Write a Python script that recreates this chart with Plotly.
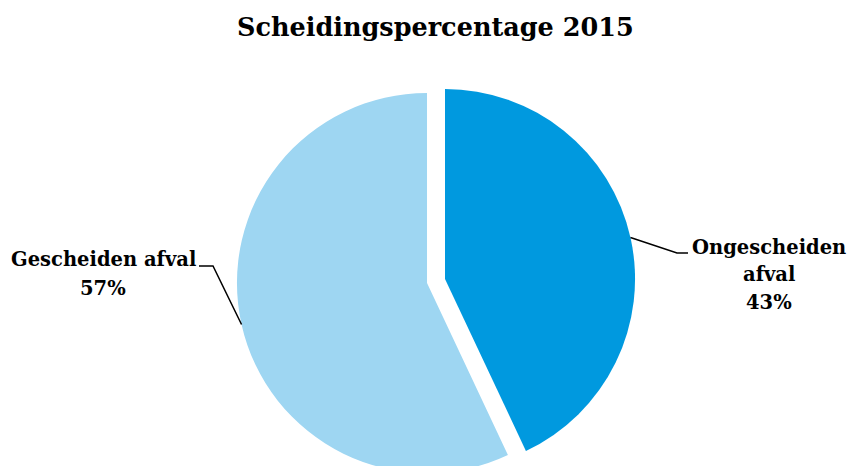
import math
import plotly.graph_objects as go

# ---- data ----
labels = ["Ongescheiden afval", "Gescheiden afval"]
values = [43, 57]
colors = ["#0099DF", "#9ED6F2"]
pull = [0.097, 0.0]
label_lines = [["Ongescheiden", "afval"], ["Gescheiden afval"]]
title_text = "Scheidingspercentage 2015"

# ---- layout constants (pixels) ----
W, H = 848, 500
DOM_X = [0.2577, 0.7494]
DOM_Y = [0.017, 0.851]
FONT = "DejaVu Serif"
LABEL_SIZE = 19.5
TITLE_SIZE = 25.5
# label block centre x, first-line y, line pitch, leader end point, elbow length (sign = side)
label_pos = [
    dict(x=769, y0=247, pitch=27.5, end=(688, 253), elbow=-11),
    dict(x=103, y0=259.5, pitch=28.5, end=(199, 266), elbow=14),
]

fig = go.Figure(go.Pie(
    labels=labels, values=values, sort=False, direction="clockwise", rotation=0,
    pull=pull, marker=dict(colors=colors, line=dict(width=0)),
    textinfo="none", hoverinfo="label+percent", showlegend=False,
    domain=dict(x=DOM_X, y=DOM_Y),
))

# pie geometry (same rules plotly uses to size the pie in its domain)
bw = (DOM_X[1] - DOM_X[0]) * W
bh = (DOM_Y[1] - DOM_Y[0]) * H
r = min(bw, bh) / (2 * (1 + max(pull)))
cx = W * (DOM_X[0] + DOM_X[1]) / 2
cy = H * (1 - (DOM_Y[0] + DOM_Y[1]) / 2)

def px2paper(x, y):
    return x / W, 1 - y / H

total = sum(values)
annotations = []
shapes = []
cum = 0
for i, v in enumerate(values):
    mid = (cum + v / 2) / total * 2 * math.pi
    cum += v
    rr = r * (1 + pull[i])
    ax_, ay_ = cx + rr * math.sin(mid), cy - rr * math.cos(mid)
    lp = label_pos[i]
    ex, ey = lp["end"]
    bx, by = ex + lp["elbow"], ey
    p = [px2paper(ax_, ay_), px2paper(bx, by), px2paper(ex, ey)]
    shapes.append(dict(type="path", xref="paper", yref="paper",
                       path="M %f %f L %f %f L %f %f" % (p[0][0], p[0][1], p[1][0], p[1][1], p[2][0], p[2][1]),
                       line=dict(color="#000000", width=1.5)))
    pct = "%d%%" % round(100 * v / total)
    lines = label_lines[i] + [pct]
    for k, t in enumerate(lines):
        x, y = px2paper(lp["x"], lp["y0"] + k * lp["pitch"])
        annotations.append(dict(text="<b>%s</b>" % t, x=x, y=y, xref="paper", yref="paper",
                                xanchor="center", yanchor="middle", showarrow=False,
                                font=dict(family=FONT, size=LABEL_SIZE, color="#000000")))

tx, ty = px2paper(435, 27)
annotations.append(dict(text="<b>%s</b>" % title_text, x=tx, y=ty, xref="paper", yref="paper",
                        xanchor="center", yanchor="middle", showarrow=False,
                        font=dict(family=FONT, size=TITLE_SIZE, color="#000000")))

fig.update_layout(
    width=W, height=H, margin=dict(l=0, r=0, t=0, b=0),
    paper_bgcolor="#FFFFFF", plot_bgcolor="#FFFFFF",
    annotations=annotations, shapes=shapes,
)

fig.write_html(
    "out.html",
    config={"displayModeBar": False},
    post_script="document.documentElement.style.overflow='hidden';"
                "document.body.style.overflow='hidden';document.body.style.margin='0';",
)
